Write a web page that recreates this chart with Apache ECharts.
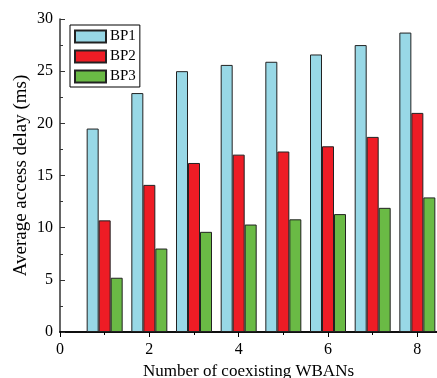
<!DOCTYPE html>
<html>
<head>
<meta charset="utf-8">
<script src="https://cdn.jsdelivr.net/npm/echarts@6/dist/echarts.min.js"></script>
<style>
html, body { margin: 0; padding: 0; background: #fff; }
#ct1 { width: 437px; height: 378px; }
</style>
</head>
<body>
<div id="ct1"></div>
<script>
var wbans = [1, 2, 3, 4, 5, 6, 7, 8];
var bp1 = [19.5, 22.9, 25.0, 25.6, 25.9, 26.6, 27.5, 28.7];
var bp2 = [10.7, 14.1, 16.2, 17.0, 17.3, 17.8, 18.7, 21.0];
var bp3 = [5.2, 8.0, 9.6, 10.3, 10.8, 11.3, 11.9, 12.9];
var seriesNames = ['BP1', 'BP2', 'BP3'];
var colors = ['#98d8e6', '#ee1c25', '#6aba45'];

var fontFam = '"Liberation Serif", "DejaVu Serif", serif';

function pairs(arr) {
	var out = [];
	for (var i = 0; i < wbans.length; i++) {
		out.push([wbans[i], arr[i]]);
	}
	return out;
}

var seriesData = [bp1, bp2, bp3];
var series = [];
for (var s = 0; s < seriesData.length; s++) {
	series.push({
		name: seriesNames[s],
		type: 'bar',
		data: pairs(seriesData[s]),
		barWidth: 12,
		barGap: '0%',
		itemStyle: { color: colors[s], borderColor: '#222', borderWidth: 1 }
	});
}

var option1 = {
	animation: false,
	textStyle: { fontFamily: fontFam },
	grid: { left: 60, top: 19, right: 0, bottom: 46, outerBoundsMode: 'none', containLabel: false },
	legend: {
		orient: 'vertical',
		left: 70,
		top: 25,
		padding: [4, 4, 3, 4],
		itemGap: 5,
		itemWidth: 31,
		itemHeight: 12,
		borderColor: '#000',
		borderWidth: 1,
		borderRadius: 0,
		icon: 'rect',
		textStyle: { fontFamily: fontFam, fontSize: 15, color: '#000', padding: [0, 0, 0, -1] },
		data: seriesNames
	},
	xAxis: [{
		type: 'value',
		min: 0,
		max: 8.44,
		interval: 2,
		name: 'Number of coexisting WBANs',
		nameLocation: 'middle',
		nameGap: 30,
		nameTextStyle: { fontFamily: fontFam, fontSize: 17, color: '#000' },
		axisLine: { show: true, onZero: false, lineStyle: { color: '#000', width: 1.5 } },
		axisTick: { show: true, inside: false, length: 5, lineStyle: { color: '#000' } },
		minorTick: { show: true, splitNumber: 2, length: 3, lineStyle: { color: '#000' } },
		axisLabel: {
			fontFamily: fontFam, fontSize: 16, color: '#000', margin: 10,
			formatter: function(v) { return v > 8.1 ? '' : v; }
		},
		splitLine: { show: false }
	}, {
		type: 'value',
		position: 'top',
		min: 0,
		max: 8.44,
		interval: 2,
		axisLine: { show: true, lineStyle: { color: '#000', width: 1.5 } },
		axisTick: { show: false },
		minorTick: { show: false },
		axisLabel: { show: false },
		splitLine: { show: false }
	}],
	yAxis: {
		type: 'value',
		min: 0,
		max: 30,
		interval: 5,
		name: 'Average access delay (ms)',
		nameLocation: 'middle',
		nameGap: 29,
		nameMoveOverlap: false,
		nameTextStyle: { fontFamily: fontFam, fontSize: 19, color: '#000' },
		axisLine: { show: true, lineStyle: { color: '#333', width: 1.5 } },
		axisTick: { show: true, inside: true, length: 5, lineStyle: { color: '#333' } },
		minorTick: { show: true, splitNumber: 2, length: 3, lineStyle: { color: '#333' } },
		axisLabel: { fontFamily: fontFam, fontSize: 16, color: '#000', margin: 7 },
		splitLine: { show: false }
	},
	series: series
};

var myChart1 = echarts.init(document.getElementById('ct1'));
myChart1.setOption(option1, true);
</script>
</body>
</html>
